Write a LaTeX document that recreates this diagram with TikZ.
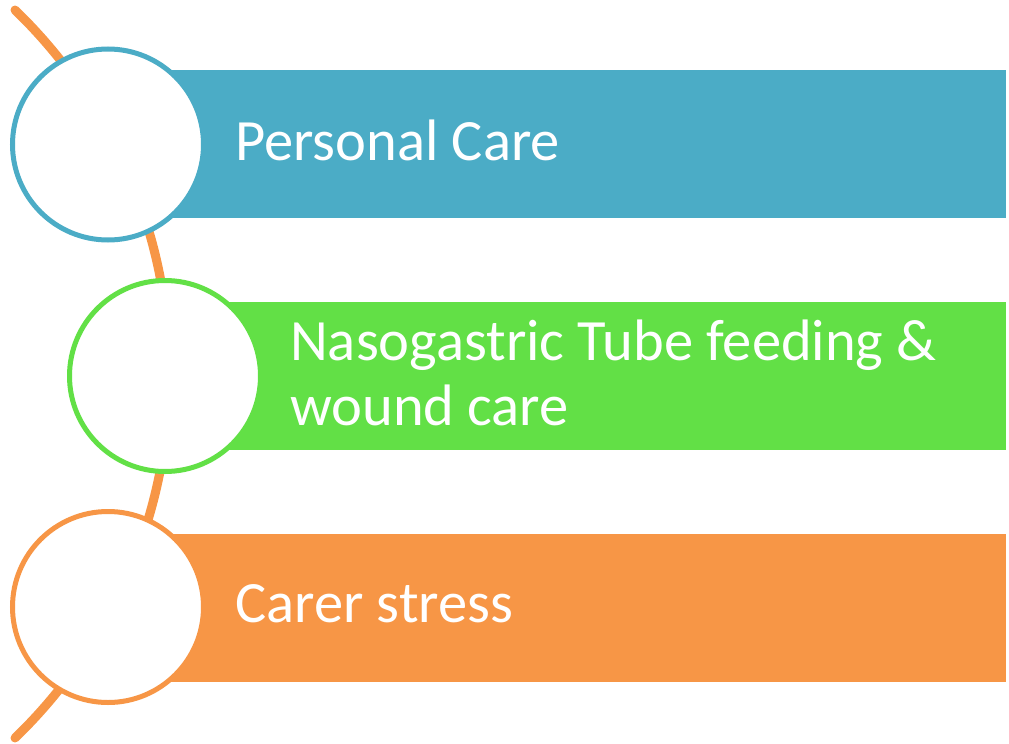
\documentclass[tikz,border=0pt]{standalone}
\usepackage{fontspec}
\setmainfont{Carlito}
\definecolor{cblue}{HTML}{4BACC6}
\definecolor{cgreen}{HTML}{62E046}
\definecolor{corange}{HTML}{F79646}
\begin{document}
\begin{tikzpicture}[x=1pt,y=-1pt,
  bar/.style={rectangle,draw=none,inner sep=0pt,minimum height=148pt,anchor=west},
  ring/.style={circle,fill=white,line width=5pt,minimum size=191pt,inner sep=0pt},
  label/.style={anchor=base west,inner sep=0pt,text=white,font=\fontsize{58.5}{65}\selectfont,align=left}]
\useasboundingbox (0,0) rectangle (1009,744);
% timeline arc
\coordinate (arcstart) at (15,10);
\draw[corange,line width=9pt,line cap=round] (arcstart) arc[start angle=-46,end angle=46,radius=506];
% bars
\node[bar,fill=cblue,minimum width=898pt] (bar1) at (108,144) {};
\node[bar,fill=cgreen,minimum width=841pt] (bar2) at (165,375.5) {};
\node[bar,fill=corange,minimum width=898pt] (bar3) at (108,607.5) {};
% circles
\node[ring,draw=cblue] (c1) at (108,144.5) {};
\node[ring,draw=cgreen] (c2) at (165,376) {};
\node[ring,draw=corange] (c3) at (108,607) {};
% labels
\node[label] (t1) at (235,160) {Personal Care};
\node[label] (t2) at (290,425) {Nasogastric Tube feeding \&\\wound care};
\node[label] (t3) at (235,622) {Carer stress};
\end{tikzpicture}
\end{document}
